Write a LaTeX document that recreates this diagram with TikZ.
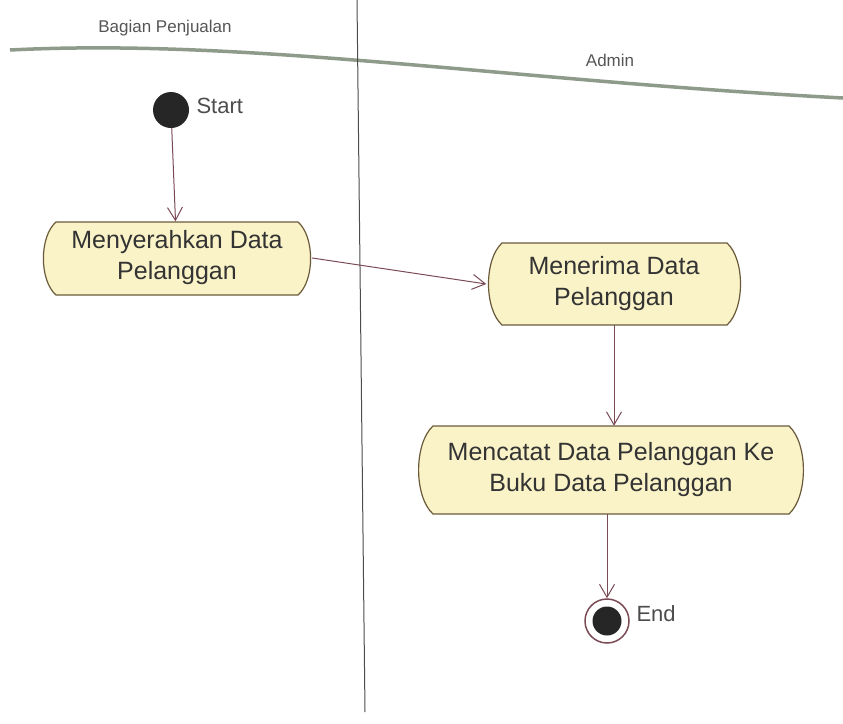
\documentclass[tikz,border=0pt]{standalone}
\usepackage{fontspec}
\setmainfont{Liberation Sans}
\usetikzlibrary{arrows.meta,calc,backgrounds}
\definecolor{actfill}{HTML}{FAF3C8}
\definecolor{actdraw}{HTML}{6B5A3A}
\definecolor{flow}{HTML}{7A4A55}
\definecolor{lanecol}{HTML}{8E9A8A}
\definecolor{headtext}{HTML}{555555}
\tikzset{
  action/.style={align=center, font=\fontsize{25}{31}\selectfont, text=black!80, inner sep=0pt},
  actoutline/.style={draw=actdraw, fill=actfill, line width=1.2pt},
  flowline/.style={draw=flow, line width=1pt, -{Straight Barb[length=13pt,width=15pt]}},
  lanelabel/.style={font=\fontsize{17}{20}\selectfont, text=headtext},
  statelabel/.style={font=\fontsize{22}{26}\selectfont, text=black!70, anchor=west}
}
% #1 name, #2 left x, #3 top y, #4 right x, #5 bottom y, #6 bulge
\newcommand\actbox[6]{%
  \begin{scope}[on background layer]
  \path[actoutline] (#2+#6,#3) -- (#4-#6,#3)
    .. controls (#4+0.2*#6,#3+0.2*#5-0.2*#3) and (#4+0.2*#6,#5-0.2*#5+0.2*#3) .. (#4-#6,#5)
    -- (#2+#6,#5)
    .. controls (#2-0.2*#6,#5-0.2*#5+0.2*#3) and (#2-0.2*#6,#3+0.2*#5-0.2*#3) .. (#2+#6,#3) -- cycle;
  \end{scope}}
\begin{document}
\begin{tikzpicture}[x=1pt,y=-1pt]
\useasboundingbox (0,0) rectangle (843,723);
% lanes
\draw[lanecol, line width=3.5pt] (10,50) .. controls (250,38) and (500,80) .. (843,98);
\draw[black!70, line width=1pt] (357,0) -- (365,712);
\node[lanelabel] (lane1) at (165,28) {Bagian Penjualan};
\node[lanelabel] (lane2) at (610,60) {Admin};
% start
\node[circle, fill=black!85, minimum size=36pt, inner sep=0pt] (start) at (171,110) {};
\node[statelabel] (startlbl) at (193,106) {Start};
% actions
\node[action, minimum width=270pt, minimum height=73pt] (a1) at (177,258) {Menyerahkan Data\\Pelanggan};
\actbox{a1}{42}{222}{312}{295}{14}
\node[action, minimum width=255pt, minimum height=82pt] (a2) at (614,284) {Menerima Data\\Pelanggan};
\actbox{a2}{487}{243}{742}{325}{15}
\node[action, minimum width=388pt, minimum height=88pt] (a3) at (611,470) {Mencatat Data Pelanggan Ke\\Buku Data Pelanggan};
\actbox{a3}{417}{426}{805}{514}{16}
% end
\node[circle, draw=flow, line width=1.5pt, fill=white, minimum size=44pt, inner sep=0pt] (end) at (607,621) {};
\node[circle, fill=black!85, minimum size=29pt, inner sep=0pt] (endin) at (end.center) {};
\node[statelabel] (endlbl) at (633,614) {End};
% flows
\draw[flowline] (start) -- (a1);
\draw[flowline] (a1.east) -- (a2.west);
\draw[flowline] (a2.south) -- (a3.north -| a2.south);
\draw[flowline] (a3.south -| end) -- (end);
\end{tikzpicture}
\end{document}
